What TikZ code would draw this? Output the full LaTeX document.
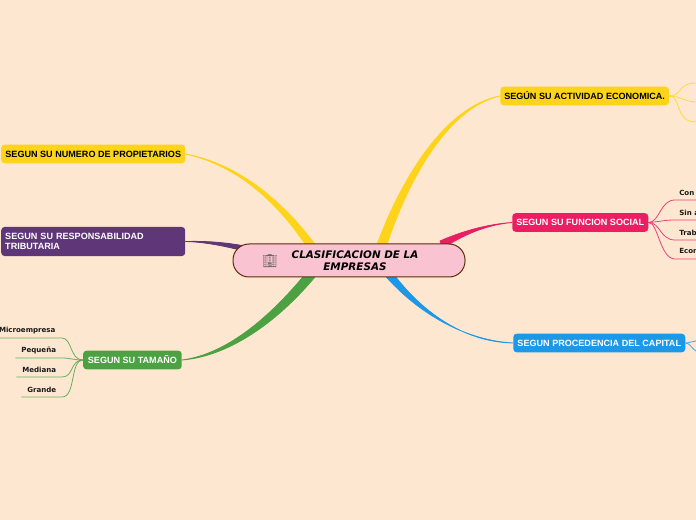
\documentclass[tikz,border=0pt]{standalone}
\usepackage{fontspec}
\setmainfont{Liberation Sans}
\newfontfamily\leaffont{DejaVu Sans}
\newfontfamily\emojifont{Noto Emoji}
\usetikzlibrary{backgrounds}
\definecolor{paper}{HTML}{FEE7D0}
\definecolor{rootfill}{HTML}{FAC3D1}
\definecolor{rootline}{HTML}{5C2A0A}
\definecolor{cyellow}{HTML}{FDD41A}
\definecolor{cpurple}{HTML}{5F3678}
\definecolor{cred}{HTML}{E91E63}
\definecolor{cblue}{HTML}{1B98E8}
\definecolor{cgreen}{HTML}{4CA242}
\tikzset{
  root/.style={draw=rootline, fill=rootfill, line width=0.75pt, rounded corners=12pt,
               minimum width=174pt, minimum height=24.75pt, inner sep=0pt},
  topic/.style={rounded corners=2.5pt, inner xsep=3pt, inner ysep=0pt, minimum height=13.9pt,
                font=\fontsize{6.8}{7.9}\selectfont\bfseries},
  leaf/.style={inner xsep=0pt, inner ysep=1.4pt, minimum height=11pt, text=black!90,
               font=\leaffont\fontsize{5.3}{6.4}\selectfont\bfseries},
  trunk/.style={draw=#1, fill=#1, line width=0.6pt, line join=round},  % tapered main branch
  twig/.style={draw=#1!85!white, line width=0.6pt},                    % thin side branch
}
\begin{document}
\begin{tikzpicture}[x=0.75pt, y=-0.75pt]
  \useasboundingbox (0,0) rectangle (696,520);
  \clip (0,0) rectangle (696,520);
  \node[root] (rCentro) at (349,260.5) {};
  \node[font=\leaffont\fontsize{7.8}{9.2}\selectfont\bfseries\itshape, align=center, inner sep=0pt] (rTitulo) at (355,261)
    {CLASIFICACION DE LA\\EMPRESAS};
  \node[font=\emojifont\fontsize{9.5}{10}\selectfont, text=black!60, inner sep=0pt] (rIcono) at (270,261) {^^^^^^01f3e2};

  \node[topic, fill=cyellow, text=black, anchor=west, minimum width=126pt] (tActividad) at (500,96) {SEGÚN SU ACTIVIDAD ECONOMICA.};
  \node[topic, fill=cred, text=white, anchor=west, minimum width=102pt] (tSocial) at (512,222.5) {SEGUN SU FUNCION SOCIAL};
  \node[topic, fill=cblue, text=white, anchor=west, minimum width=129pt] (tCapital) at (513,343) {SEGUN PROCEDENCIA DEL CAPITAL};
  \node[topic, fill=cyellow, text=black, anchor=east, minimum width=138pt] (tPropietarios) at (185.5,154) {SEGUN SU NUMERO DE PROPIETARIOS};
  \node[topic, fill=cpurple, text=white, anchor=east, minimum width=138pt, minimum height=21.8pt,
        align=left, text width=132pt] (tTributaria) at (185.5,241.5) {SEGUN SU RESPONSABILIDAD\\TRIBUTARIA};
  \node[topic, fill=cgreen, text=white, anchor=east, minimum width=74pt] (tTamano) at (182,360) {SEGUN SU TAMAÑO};

  % leaves of the red branch run off the page
  \foreach \n/\y/\t in {lCon/200/Con á,lSin/220/Sin á,lTrab/240/Trab,lEcon/259/Econ}
    \node[leaf, anchor=south west, text depth=0pt, inner xsep=3pt] (\n) at (675,\y) {\t};

  \foreach \n/\y/\w/\t in {lMicro/338/69/Microempresa,lPeq/358/46/Pequeña,lMed/377/45/Mediana,lGra/397/40/Grande}
    \node[leaf, anchor=south east, minimum width=\w*0.75pt] (\n) at (62,\y) {\t};

  \coordinate (aArriba) at (696,83);
  \coordinate (aMedio) at (696,102);
  \coordinate (aAbajo) at (696,122);
  \coordinate (cArriba) at (696,341);
  \coordinate (cAbajo) at (696,351);
  \foreach \n/\y in {sCon/200,sSin/220,sTrab/240,sEcon/259} \coordinate (\n) at (696,\y);

  \begin{scope}[on background layer]
    \fill[paper] (0,0) rectangle (696,520);
    \path[trunk=cyellow] (375,250) .. controls (400,180) and (445,106) .. (tActividad.west)
      .. controls (447,108) and (407,182) .. (385,250) -- cycle;
    \path[trunk=cyellow] (319,250) .. controls (288,206) and (241,164) .. (tPropietarios.east)
      .. controls (241,166) and (282,208) .. (309,250) -- cycle;
    \path[trunk=cpurple] (250,247) .. controls (225,242) and (205,241) .. (tTributaria.east)
      .. controls (205,242) and (225,246) .. (248,252) -- cycle;
    \path[trunk=cred] (440,241) .. controls (465,230) and (490,224) .. (tSocial.west)
      .. controls (490,224.5) and (468,232) .. (443,248) -- cycle;
    \path[trunk=cblue] (382,272) .. controls (412,308) and (460,340) .. (tCapital.west)
      .. controls (462,342) and (420,310) .. (392,272) -- cycle;
    \path[trunk=cgreen] (307,272) .. controls (272,315) and (228,354) .. (tTamano.east)
      .. controls (232,356) and (282,318) .. (319,272) -- cycle;

    \draw[twig=cyellow] (tActividad.east) .. controls (682,96) and (678,83) .. (aArriba);
    \draw[twig=cyellow] (tActividad.east) .. controls (680,96) and (686,102) .. (aMedio);
    \draw[twig=cyellow] (tActividad.east) .. controls (682,96) and (674,122) .. (aAbajo);
    \draw[twig=cred] (tSocial.east) .. controls (660,222) and (660,200) .. (lCon.south west) -- (sCon);
    \draw[twig=cred] (tSocial.east) .. controls (658,222) and (664,220) .. (lSin.south west) -- (sSin);
    \draw[twig=cred] (tSocial.east) .. controls (660,222) and (660,240) .. (lTrab.south west) -- (sTrab);
    \draw[twig=cred] (tSocial.east) .. controls (658,222) and (660,259) .. (lEcon.south west) -- (sEcon);
    \draw[twig=cblue] (tCapital.east) .. controls (690,343) and (692,341) .. (cArriba);
    \draw[twig=cblue] (tCapital.east) .. controls (690,343) and (692,349) .. (cAbajo);
    \draw[twig=cgreen] (tTamano.west) .. controls (70,360) and (72,338) .. (lMicro.south east) -- (lMicro.south west);
    \draw[twig=cgreen] (tTamano.west) .. controls (74,360) and (70,358) .. (lPeq.south east) -- (lPeq.south west);
    \draw[twig=cgreen] (tTamano.west) .. controls (70,360) and (74,377) .. (lMed.south east) -- (lMed.south west);
    \draw[twig=cgreen] (tTamano.west) .. controls (70,360) and (76,397) .. (lGra.south east) -- (lGra.south west);
  \end{scope}
\end{tikzpicture}
\end{document}
